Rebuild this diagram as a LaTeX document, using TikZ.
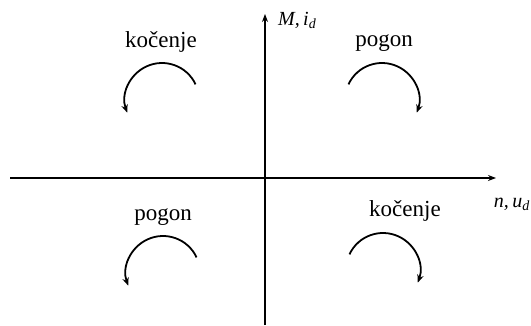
\documentclass[tikz,border=0pt]{standalone}
\usepackage{fontspec}
\setmainfont{Liberation Serif}
\usetikzlibrary{arrows.meta}
\begin{document}
\begin{tikzpicture}[x=1pt,y=1pt,
  axis/.style={line width=1.3pt,-{Stealth[length=8pt,width=6pt]}},
  turn/.style={line width=1.8pt,-{Stealth[length=8pt,width=6.5pt]}},
  lbl/.style={anchor=base,font=\fontsize{23}{26}\selectfont,inner sep=0pt},
  axlbl/.style={font=\fontsize{20}{24}\selectfont\itshape,inner sep=0pt}]
\useasboundingbox (0,0) rectangle (531,325);
% axes
\coordinate (xs) at (10,147);
\coordinate (xe) at (496,147);
\coordinate (ys) at (265,0);
\coordinate (ye) at (265,311);
\draw[axis] (xs) -- (xe);
\draw[axis] (ys) -- (ye);
\node[axlbl,anchor=base west] (ylab) at (278,300) {M,\,i\textsubscript{d}};
\node[axlbl,anchor=base east] (xlab) at (530,118) {n,\,u\textsubscript{d}};
% quadrant labels
\node[lbl] (q2) at (161,277) {kočenje};
\node[lbl] (q1) at (384,279) {pogon};
\node[lbl] (q3) at (163,105) {pogon};
\node[lbl] (q4) at (405,109) {kočenje};
% rotation arcs
\draw[turn] ([shift={(25:37)}]162,225) arc[start angle=25,end angle=200,radius=37];
\draw[turn] ([shift={(155:37)}]382,225) arc[start angle=155,end angle=-20,radius=37];
\draw[turn] ([shift={(25:37)}]163,52) arc[start angle=25,end angle=200,radius=37];
\draw[turn] ([shift={(155:37)}]383,55) arc[start angle=155,end angle=-20,radius=37];
\end{tikzpicture}
\end{document}
